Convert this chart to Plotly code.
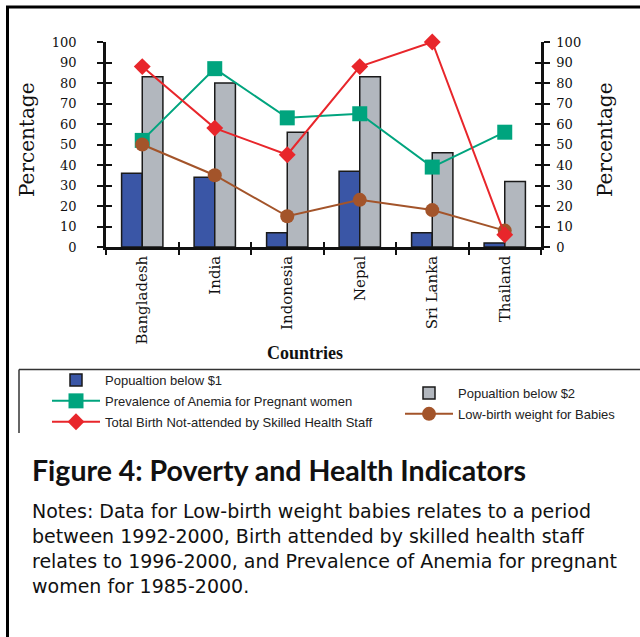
import plotly.graph_objects as go

countries = ['Bangladesh', 'India', 'Indonesia', 'Nepal', 'Sri Lanka', 'Thailand']
below_1 = [36, 34, 7, 37, 7, 2]
below_2 = [83, 80, 56, 83, 46, 32]
anemia = [52, 87, 63, 65, 39, 56]
low_birth = [50, 35, 15, 23, 18, 8]
birth_not_attended = [88, 58, 45, 88, 100, 6]

y_ticks = list(range(0, 101, 10))

caption = 'Figure 4: Poverty and Health Indicators'
notes_lines = [
    'Notes: Data for Low-birth weight babies relates to a period',
    'between 1992-2000, Birth attended by skilled health staff',
    'relates to 1996-2000, and Prevalence of Anemia for pregnant',
    'women for 1985-2000.',
]

# plot area in pixels (left, right, top, bottom)
L, R, T, B = 106, 541, 42, 247


def px(x):
    return (x - L) / (R - L)


def py(y):
    return (B - y) / (B - T)


serif = 'DejaVu Serif'
sans = 'Liberation Sans'

fig = go.Figure()

fig.add_trace(go.Bar(
    x=countries, y=below_1, name='Popualtion below $1',
    marker=dict(color='#3A56A6', line=dict(color='#1a1a1a', width=1.5)),
    legend='legend', legendgroup='a'
))
fig.add_trace(go.Bar(
    x=countries, y=below_2, name='Popualtion below $2',
    marker=dict(color='#B2B7BE', line=dict(color='#1a1a1a', width=1.5)),
    legend='legend2', legendgroup='b'
))
fig.add_trace(go.Scatter(
    x=countries, y=anemia, name='Prevalence of Anemia for Pregnant women',
    mode='lines+markers', cliponaxis=False,
    line=dict(color='#00A47E', width=2),
    marker=dict(symbol='square', size=15, color='#00A47E'),
    legend='legend', legendgroup='c'
))
fig.add_trace(go.Scatter(
    x=countries, y=low_birth, name='Low-birth weight for Babies',
    mode='lines+markers', cliponaxis=False,
    line=dict(color='#A3542A', width=2),
    marker=dict(symbol='circle', size=14, color='#A3542A'),
    legend='legend2', legendgroup='d'
))
fig.add_trace(go.Scatter(
    x=countries, y=birth_not_attended,
    name='Total Birth Not-attended by Skilled Health Staff',
    mode='lines+markers', cliponaxis=False,
    line=dict(color='#E8262B', width=2),
    marker=dict(symbol='diamond', size=13, color='#E8262B'),
    legend='legend', legendgroup='e'
))

# invisible traces so the overlay axes (crossing tick marks, right axis) get drawn
for xa, ya in [('x2', 'y3'), ('x', 'y2'), ('x', 'y4')]:
    fig.add_trace(go.Scatter(
        x=countries, y=below_2, xaxis=xa, yaxis=ya, mode='markers',
        marker=dict(opacity=0), showlegend=False, hoverinfo='skip'
    ))

axis_common = dict(range=[0, 100], tickvals=y_ticks, showgrid=False,
                   zeroline=False, ticklen=6, tickwidth=2, tickcolor='#111',
                   tickfont=dict(family=serif, size=13, color='#111'))
xaxis_common = dict(type='category', categoryorder='array',
                    categoryarray=countries, range=[-0.5, 5.5],
                    tickson='boundaries', ticklen=5, tickwidth=2,
                    tickcolor='#111', showgrid=False, zeroline=False)

fig.update_layout(
    width=640, height=637,
    margin=dict(l=L, r=640 - R, t=T, b=637 - B, autoexpand=False),
    paper_bgcolor='white', plot_bgcolor='white',
    barmode='group', bargap=0.43, bargroupgap=0,
    xaxis=dict(**xaxis_common, ticks='outside', showline=True,
               linecolor='#111', linewidth=2.5, tickangle=-90,
               tickfont=dict(family=serif, size=15, color='#111')),
    xaxis2=dict(**xaxis_common, overlaying='x', anchor='y', ticks='inside',
                showticklabels=False),
    yaxis=dict(**axis_common, ticks='outside', showline=True,
               linecolor='#111', linewidth=2.5, ticklabelstandoff=18),
    yaxis2=dict(**axis_common, overlaying='y', side='right', anchor='x',
                ticks='outside', showline=True, linecolor='#111',
                linewidth=2.5, ticklabelstandoff=4),
    yaxis3=dict(**axis_common, overlaying='y', side='left', anchor='x',
                ticks='inside', showticklabels=False),
    yaxis4=dict(**axis_common, overlaying='y', side='right', anchor='x',
                ticks='inside', showticklabels=False),
    legend=dict(x=px(47), y=py(365), xanchor='left', yanchor='top',
                bgcolor='rgba(0,0,0,0)', itemwidth=48, tracegroupgap=1,
                font=dict(family=sans, size=13, color='#222')),
    legend2=dict(x=px(400), y=py(378), xanchor='left', yanchor='top',
                 bgcolor='rgba(0,0,0,0)', itemwidth=48, tracegroupgap=1,
                 font=dict(family=sans, size=13, color='#222')),
    showlegend=True,
)

annotations = [
    dict(text='Percentage', x=px(27), y=py(140), textangle=-90,
         font=dict(family=serif, size=20, color='#111')),
    dict(text='Percentage', x=px(605), y=py(140), textangle=-90,
         font=dict(family=serif, size=20, color='#111')),
    dict(text='<b>Countries</b>', x=px(305), y=py(353),
         font=dict(family='Liberation Serif', size=18, color='#111')),
    dict(text='<b>' + caption + '</b>', x=px(30), y=py(470), xanchor='left',
         font=dict(family='Lato', size=28.5, color='#111')),
]
for i, line in enumerate(notes_lines):
    annotations.append(dict(text=line, x=px(30), y=py(511.5 + 24.7 * i),
                            xanchor='left',
                            font=dict(family='DejaVu Sans', size=19, color='#111')))
for a in annotations:
    a.update(xref='paper', yref='paper', showarrow=False)
    a.setdefault('xanchor', 'center')
    a.setdefault('yanchor', 'middle')
fig.update_layout(annotations=annotations)

frame = dict(xref='paper', yref='paper', type='line')
fig.update_layout(shapes=[
    dict(**frame, x0=px(6), x1=px(640), y0=py(7), y1=py(7),
         line=dict(color='#000', width=3)),
    dict(**frame, x0=px(7.5), x1=px(7.5), y0=py(6), y1=py(637),
         line=dict(color='#000', width=3)),
    dict(**frame, x0=px(19), x1=px(640), y0=py(369.5), y1=py(369.5),
         line=dict(color='#333', width=1.5)),
    dict(**frame, x0=px(19), x1=px(19), y0=py(369.5), y1=py(433),
         line=dict(color='#333', width=1.5)),
])

# the page's default body margin would shift the figure by 8px
fig.write_html('out.html', config={'displayModeBar': False},
               post_script="document.body.style.margin='0';")
